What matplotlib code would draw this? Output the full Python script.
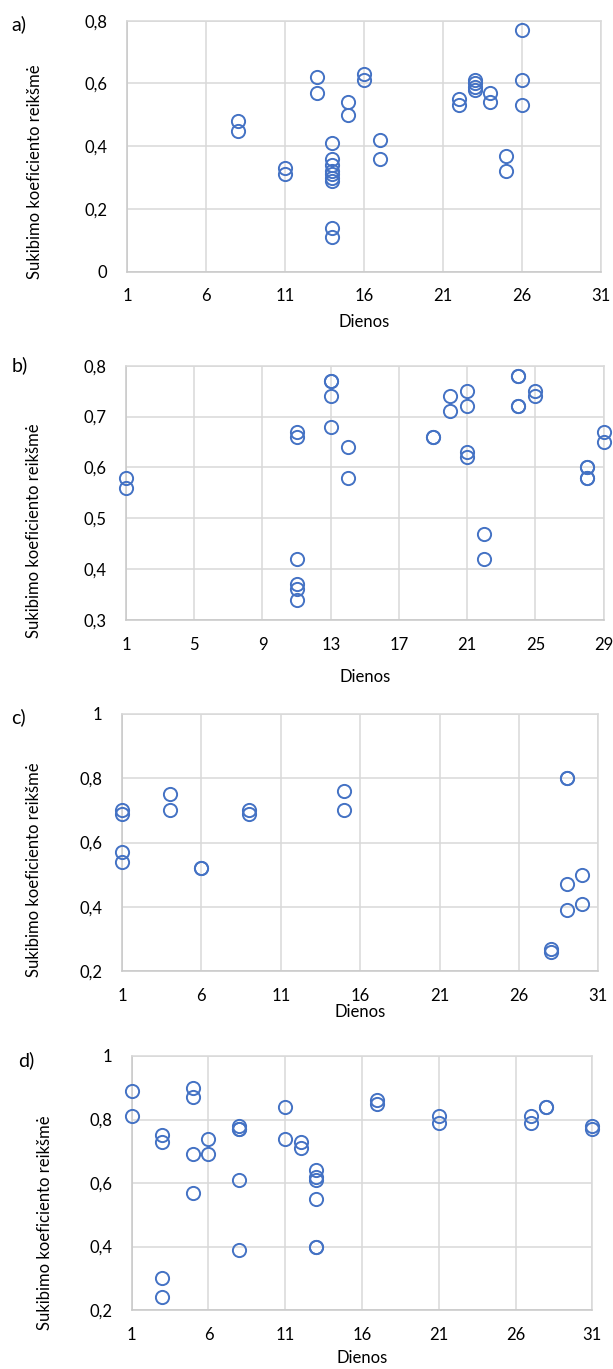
import matplotlib
matplotlib.use("Agg")
import matplotlib.pyplot as plt
from matplotlib.ticker import FuncFormatter

# ---------------- data ----------------
a_days = [8, 8, 11, 11, 13, 13, 14, 14, 14, 14, 14, 14, 14, 14, 14, 15, 15, 16, 16, 17, 17,
          22, 22, 23, 23, 23, 23, 24, 24, 25, 25, 26, 26, 26]
a_vals = [0.48, 0.45, 0.33, 0.31, 0.62, 0.57, 0.41, 0.36, 0.34, 0.32, 0.31, 0.30, 0.29, 0.14, 0.11,
          0.54, 0.50, 0.63, 0.61, 0.42, 0.36, 0.55, 0.53, 0.61, 0.60, 0.59, 0.58, 0.57, 0.54,
          0.37, 0.32, 0.77, 0.61, 0.53]

b_days = [1, 1, 11, 11, 11, 11, 11, 11, 13, 13, 13, 13, 14, 14, 19, 19, 20, 20, 21, 21, 21, 21,
          22, 22, 24, 24, 24, 24, 25, 25, 28, 28, 28, 28, 29, 29]
b_vals = [0.58, 0.56, 0.67, 0.66, 0.42, 0.37, 0.36, 0.34, 0.77, 0.77, 0.74, 0.68, 0.64, 0.58,
          0.66, 0.66, 0.74, 0.71, 0.75, 0.72, 0.63, 0.62, 0.47, 0.42, 0.78, 0.78, 0.72, 0.72,
          0.75, 0.74, 0.60, 0.60, 0.58, 0.58, 0.67, 0.65]

c_days = [1, 1, 1, 1, 4, 4, 6, 6, 9, 9, 15, 15, 28, 28, 29, 29, 29, 29, 30, 30]
c_vals = [0.70, 0.69, 0.57, 0.54, 0.75, 0.70, 0.52, 0.52, 0.70, 0.69, 0.76, 0.70, 0.27, 0.26,
          0.80, 0.80, 0.47, 0.39, 0.50, 0.41]

d_days = [1, 1, 3, 3, 3, 3, 5, 5, 5, 5, 6, 6, 8, 8, 8, 8, 8, 11, 11, 12, 12, 13, 13, 13, 13, 13, 13,
          17, 17, 21, 21, 27, 27, 28, 28, 31, 31]
d_vals = [0.89, 0.81, 0.75, 0.73, 0.30, 0.24, 0.90, 0.87, 0.69, 0.57, 0.74, 0.69, 0.78, 0.77, 0.77,
          0.61, 0.39, 0.84, 0.74, 0.73, 0.71, 0.64, 0.62, 0.61, 0.55, 0.40, 0.40, 0.86, 0.85,
          0.81, 0.79, 0.81, 0.79, 0.84, 0.84, 0.78, 0.77]

panel_letters = ["a)", "b)", "c)", "d)"]
x_ticks = [[1, 6, 11, 16, 21, 26, 31], [1, 5, 9, 13, 17, 21, 25, 29],
           [1, 6, 11, 16, 21, 26, 31], [1, 6, 11, 16, 21, 26, 31]]
y_ticks = [[0, 0.2, 0.4, 0.6, 0.8], [0.3, 0.4, 0.5, 0.6, 0.7, 0.8],
           [0.2, 0.4, 0.6, 0.8, 1.0], [0.2, 0.4, 0.6, 0.8, 1.0]]
x_label = "Dienos"
y_label = "Sukibimo koeficiento reikšmė"

# ---------------- style ----------------
W, H = 613, 1369
DPI = 100
plt.rcParams['font.family'] = ['Lato', 'DejaVu Sans']
plt.rcParams['font.size'] = 12

BLUE = '#4472C4'
GRID = '#D9D9D9'
TXT = '#000000'

fig = plt.figure(figsize=(W / DPI, H / DPI), dpi=DPI)

# pixel boxes: left, right, top, bottom
boxes = [(127, 601, 20.7, 271.7), (126, 603.7, 365.7, 620),
         (122, 598.3, 714, 971), (131.7, 592.3, 1056, 1310)]
ylabel_pos = [(35, 172), (34, 531), (34, 870), (45, 1223)]
letter_pos = [(19, 24), (20, 365), (18, 717), (26, 1060)]
xlabel_y = [322, 677, 1012, 1358]

datasets = [(a_days, a_vals), (b_days, b_vals), (c_days, c_vals), (d_days, d_vals)]


def fmt(v, pos):
    s = ('%.1f' % v).rstrip('0').rstrip('.')
    return s.replace('.', ',')


for i, (l, r, t, b) in enumerate(boxes):
    ax = fig.add_axes([l / W, 1 - b / H, (r - l) / W, (b - t) / H])
    xs, ys = datasets[i]
    ax.plot(xs, ys, linestyle='none', marker='o', markersize=9.5, markerfacecolor='none',
            markeredgecolor=BLUE, markeredgewidth=1.4, clip_on=False, zorder=3)
    xt, yt = x_ticks[i], y_ticks[i]
    ax.set_xlim(xt[0], xt[-1])
    ax.set_ylim(yt[0], yt[-1])
    ax.set_xticks(xt)
    ax.set_yticks(yt)
    ax.yaxis.set_major_formatter(FuncFormatter(fmt))
    ax.grid(True, color=GRID, linewidth=1.1, zorder=0)
    ax.set_axisbelow(True)
    for s in ax.spines.values():
        s.set_color(GRID)
        s.set_linewidth(1.1)
    ax.spines['left'].set_color('#C8C8C8')
    ax.spines['bottom'].set_color('#C8C8C8')
    ax.tick_params(axis='both', length=0, labelsize=12, colors=TXT)
    ax.tick_params(axis='y', pad=14)
    ax.tick_params(axis='x', pad=12)

    cx = (l + r) / 2
    fig.text(cx / W, 1 - xlabel_y[i] / H, x_label, ha='center', va='center', fontsize=12)
    yx, yy = ylabel_pos[i]
    fig.text(yx / W, 1 - yy / H, y_label, ha='center', va='center', rotation=90, fontsize=12)
    lx, ly = letter_pos[i]
    fig.text(lx / W, 1 - ly / H, panel_letters[i], ha='center', va='center', fontsize=14)

fig.savefig('out.png', dpi=DPI)
